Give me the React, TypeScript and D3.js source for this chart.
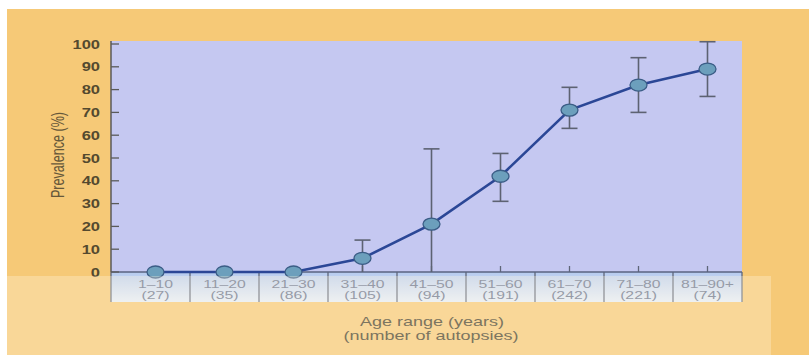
import React from "react";
import * as d3 from "d3";

const categories = ["1–10", "11–20", "21–30", "31–40", "41–50", "51–60", "61–70", "71–80", "81–90+"];
const autopsies = ["(27)", "(35)", "(86)", "(105)", "(94)", "(191)", "(242)", "(221)", "(74)"];
const prevalence = [0, 0, 0, 6, 21, 42, 71, 82, 89];
const errLow = [null, null, null, 0, 0, 31, 63, 70, 77];
const errHigh = [null, null, null, 14, 54, 52, 81, 94, 101];
const yTicks = [0, 10, 20, 30, 40, 50, 60, 70, 80, 90, 100];

const W = 809;
const H = 355;
const plotLeft = 111;
const plotRight = 742;
const plotTop = 41;
const zeroY = 272;
const stripBottom = 302;

export default function App() {
  const y = d3.scaleLinear().domain([0, 100]).range([zeroY, 44]);
  const x = d3.scaleBand<string>().domain(categories).range([121, 742]).paddingInner(0).paddingOuter(0);
  const cx = (c: string) => (x(c) as number) + x.bandwidth() / 2;
  const line = d3
    .line<number>()
    .x((_, i) => cx(categories[i]))
    .y((d) => y(d));
  const font = "'Liberation Sans', Arial, Helvetica, sans-serif";

  return (
    <svg width={W} height={H} style={{ position: "absolute", left: 0, top: 0 }}>
      <defs>
        <linearGradient id="strip" x1="0" y1="0" x2="0" y2="1">
          <stop offset="0" stopColor="#b6cbee" />
          <stop offset="1" stopColor="#e6eefa" />
        </linearGradient>
      </defs>
      <rect x={0} y={0} width={W} height={H} fill="#ffffff" />
      <rect x={7} y={9} width={W - 7} height={H - 9} fill="#f6c977" />
      {/* plot background */}
      <rect x={plotLeft} y={plotTop} width={plotRight - plotLeft} height={zeroY - plotTop} fill="#c5c8f1" />
      {/* category strip */}
      <rect x={plotLeft} y={zeroY} width={plotRight - plotLeft} height={stripBottom - zeroY} fill="url(#strip)" />
      {categories.slice(1).map((c) => (
        <line key={c} x1={x(c) as number} x2={x(c) as number} y1={zeroY} y2={stripBottom} stroke="#5f6678" strokeWidth={1.3} />
      ))}
      <line x1={plotRight} x2={plotRight} y1={zeroY} y2={stripBottom} stroke="#5f6678" strokeWidth={1.3} />
      <line x1={plotLeft} x2={plotLeft} y1={zeroY} y2={stripBottom} stroke="#5f6678" strokeWidth={1.3} />
      {/* x axis ticks upward */}
      {categories.map((c) => (
        <line key={c} x1={cx(c)} x2={cx(c)} y1={zeroY} y2={zeroY - 6} stroke="#5f6678" strokeWidth={1.3} />
      ))}
      <line x1={plotLeft} x2={plotRight} y1={zeroY} y2={zeroY} stroke="#5a6580" strokeWidth={1.5} />
      {/* y axis */}
      <line x1={plotLeft} x2={plotLeft} y1={plotTop} y2={zeroY} stroke="#5a5a5a" strokeWidth={1.5} />
      {yTicks.map((t) => (
        <g key={t}>
          <line x1={plotLeft} x2={plotLeft + 8} y1={y(t)} y2={y(t)} stroke="#5a5a5a" strokeWidth={1.3} />
          <text
            transform={`translate(100,${y(t)}) scale(1.27,1)`}
            dy="0.36em"
            textAnchor="end"
            fontFamily={font}
            fontSize={13}
            fontWeight="bold"
            fill="#54492f"
          >
            {t}
          </text>
        </g>
      ))}
      <text
        transform={`translate(58,155) rotate(-90) scale(1,1.45)`}
        textAnchor="middle"
        dy="0.35em"
        fontFamily={font}
        fontSize={12.6}
        fill="#67583a"
      >
        Prevalence (%)
      </text>
      {/* error bars */}
      {categories.map((c, i) =>
        errHigh[i] == null ? null : (
          <g key={c} stroke="#5d6272" strokeWidth={1.6}>
            <line x1={cx(c)} x2={cx(c)} y1={y(errHigh[i] as number)} y2={y(errLow[i] as number)} />
            <line x1={cx(c) - 8} x2={cx(c) + 8} y1={y(errHigh[i] as number)} y2={y(errHigh[i] as number)} />
            {(errLow[i] as number) > 0 && (
              <line x1={cx(c) - 8} x2={cx(c) + 8} y1={y(errLow[i] as number)} y2={y(errLow[i] as number)} />
            )}
          </g>
        )
      )}
      {/* line */}
      <path d={line(prevalence) as string} fill="none" stroke="#2b4796" strokeWidth={2.6} />
      {prevalence.map((v, i) => (
        <ellipse
          key={i}
          cx={cx(categories[i])}
          cy={y(v)}
          rx={8.5}
          ry={6}
          fill="#6c9fbc"
          stroke="#3b5d86"
          strokeWidth={1.3}
        />
      ))}
      {/* category labels */}
      {categories.map((c, i) => (
        <g key={c}>
          <text
            transform={`translate(${cx(c)},284) scale(1.5,1)`}
            textAnchor="middle"
            dy="0.36em"
            fontFamily={font}
            fontSize={10.5}
            fill="#65708c"
          >
            {c}
          </text>
          <text
            transform={`translate(${cx(c)},295) scale(1.5,1)`}
            textAnchor="middle"
            dy="0.36em"
            fontFamily={font}
            fontSize={10.5}
            fill="#65708c"
          >
            {autopsies[i]}
          </text>
        </g>
      ))}
      {/* light overlay */}
      <rect x={7} y={276} width={771 - 7} height={H - 276} fill="#fff6e0" opacity={0.32} />
      <text
        transform={`translate(432,322) scale(1.5,1)`}
        textAnchor="middle"
        dy="0.36em"
        fontFamily={font}
        fontSize={12}
        fill="#7c7560"
      >
        Age range (years)
      </text>
      <text
        transform={`translate(431,336) scale(1.5,1)`}
        textAnchor="middle"
        dy="0.36em"
        fontFamily={font}
        fontSize={12}
        fill="#7c7560"
      >
        (number of autopsies)
      </text>
    </svg>
  );
}
